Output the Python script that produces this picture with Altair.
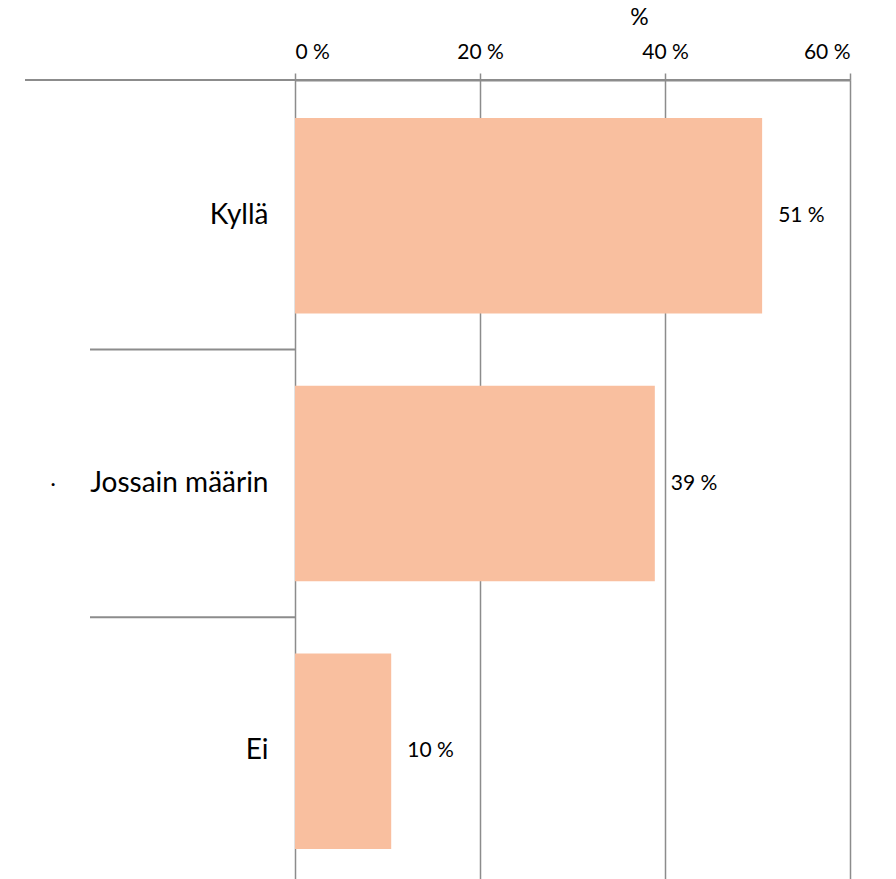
import altair as alt
import pandas as pd

categories = ["Kyllä", "Jossain määrin", "Ei"]
values = [50.5, 38.9, 10.4]
x_ticks = [0, 20, 40, 60]
separator_after = ["Kyllä", "Jossain määrin"]
dot_category = ["Jossain määrin"]

df = pd.DataFrame({"cat": categories, "val": values})
sep_df = pd.DataFrame({"cat": separator_after})
dot_df = pd.DataFrame({"cat": dot_category, "t": ["·"]})

FONT = "Lato"
GRID = "#8c8c8c"
BAR = "#F9BF9F"

y_scale = alt.Scale(domain=categories, paddingInner=0.27, paddingOuter=0.127, align=0.56)
x_scale = alt.Scale(domain=[0, 60], nice=False)

base = alt.Chart(df)

bars = base.mark_bar(color=BAR).encode(
    x=alt.X("val:Q", scale=x_scale,
            axis=alt.Axis(orient="top", values=x_ticks, labelExpr="datum.value + ' %'",
                          title="%", titleX=344, titleY=-63, titleBaseline="middle",
                          titleFont=FONT, titleFontSize=23, titleFontWeight="normal",
                          titleColor="#000000",
                          labelFont=FONT, labelFontSize=21, labelColor="#000000",
                          labelPadding=11,
                          domainColor=GRID, domainWidth=2,
                          tickColor=GRID, tickWidth=1.5, tickSize=7,
                          grid=True, gridColor=GRID, gridWidth=1.5, gridOpacity=1)),
    y=alt.Y("cat:N", scale=y_scale, sort=categories,
            axis=alt.Axis(title=None, ticks=False, domain=False, labelPadding=27,
                          labelFont=FONT, labelFontSize=28, labelColor="#000000",
                          labelAlign="right")),
)

labels = base.transform_calculate(
    lab="format(datum.val, '.0f') + ' %'"
).mark_text(align="left", baseline="middle", dx=16, font=FONT, fontSize=21, color="#000000").encode(
    x=alt.X("val:Q", scale=x_scale),
    y=alt.Y("cat:N", scale=y_scale, sort=categories),
    text="lab:N",
)

top_line = alt.Chart(pd.DataFrame({"cat": ["Kyllä"]})).mark_rule(color=GRID, strokeWidth=2).encode(
    x=alt.value(-270), x2=alt.value(555), y=alt.value(0)
)

separators = alt.Chart(sep_df).mark_rule(color=GRID, strokeWidth=2, yOffset=36).encode(
    x=alt.value(-205), x2=alt.value(0),
    y=alt.Y("cat:N", scale=y_scale, sort=categories, bandPosition=1),
)

dot = alt.Chart(dot_df).mark_text(font=FONT, fontSize=20, color="#000000", baseline="middle").encode(
    x=alt.value(-242),
    y=alt.Y("cat:N", scale=y_scale, sort=categories),
    text="t:N",
)

chart = alt.layer(bars, labels, top_line, separators, dot).properties(
    width=555, height=799,
    padding={"left": 295, "top": 80, "right": 46, "bottom": 0},
    autosize=alt.AutoSizeParams(type="none"),
).configure_view(stroke=None).configure(background="white")

chart.save("out.html", embed_options={"renderer": "svg", "actions": False})
